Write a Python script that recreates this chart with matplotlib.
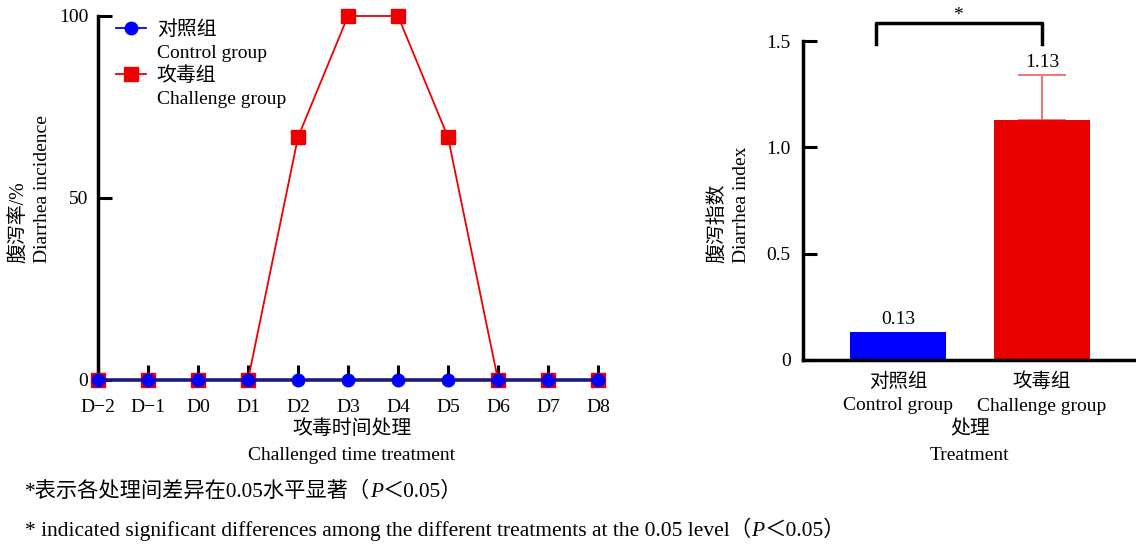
import matplotlib
matplotlib.use('Agg')
import matplotlib.pyplot as plt
from matplotlib.lines import Line2D

plt.rcParams['font.family'] = ['Liberation Serif', 'Noto Sans CJK SC']
plt.rcParams['axes.unicode_minus'] = True

# 腹泻率 (%) by day
days = ['D−2', 'D−1', 'D0', 'D1', 'D2', 'D3', 'D4', 'D5', 'D6', 'D7', 'D8']
control_rate = [0, 0, 0, 0, 0, 0, 0, 0, 0, 0, 0]
challenge_rate = [0, 0, 0, 0, 66.7, 100, 100, 66.7, 0, 0, 0]

# 腹泻指数
groups_cn = ['对照组', '攻毒组']
groups_en = ['Control group', 'Challenge group']
diarrhea_index = [0.13, 1.13]
index_err = [0, 0.21]

W, H = 1136, 545
fig = plt.figure(figsize=(W / 100, H / 100), dpi=100)

BLUE = '#0000ff'
RED = '#e80000'
FS = 14      # latin text
FS_CN = 14.3  # chinese text


def fx(px):
    return px / W


def fy(py):
    return 1 - py / H


# ---------- left: incidence line chart ----------
ax1 = fig.add_axes([fx(98), fy(380), 500 / W, 364 / H])
xs = list(range(len(days)))
ax1.plot(xs, challenge_rate, color='#ee0000', lw=1.3, marker='s', ms=9.5,
         mfc='#ee0000', mec='#ee0000', zorder=3, clip_on=False)
ax1.plot(xs, control_rate, color='#1c1c78', lw=2.6, marker='o', ms=9,
         mfc=BLUE, mec=BLUE, zorder=4, clip_on=False)
ax1.set_xlim(0, len(days) - 1)
ax1.set_ylim(0, 100)
for s in ['top', 'right', 'bottom']:
    ax1.spines[s].set_visible(False)
ax1.spines['left'].set_linewidth(2.5)
ax1.set_xticks(xs)
ax1.set_xticklabels(days, fontsize=FS)
ax1.set_yticks([0, 50, 100])
ax1.set_yticklabels(['0', '50', '100'], fontsize=FS)
ax1.tick_params(axis='x', direction='in', length=11, width=2.2, pad=14)
ax1.tick_params(axis='y', direction='in', length=10, width=2.2, pad=7)

# legend: marker on the Chinese line, English name underneath
h_ctrl = Line2D([], [], color=BLUE, lw=1.3, marker='o', ms=9, mfc=BLUE, mec=BLUE)
h_chal = Line2D([], [], color='#ee0000', lw=1.3, marker='s', ms=9.5,
                mfc='#ee0000', mec='#ee0000')
leg = ax1.legend([h_ctrl, h_chal], groups_cn, loc='upper left',
                 bbox_to_anchor=(0.02, 1.008), frameon=False, fontsize=FS_CN,
                 handlelength=1.5, handletextpad=0.55, labelspacing=1.35,
                 borderaxespad=0)
for t, en in zip(leg.get_texts(), groups_en):
    ax1.annotate(en, xy=(0, 0), xycoords=t, xytext=(0, -3.5),
                 textcoords='offset points', va='top', ha='left', fontsize=FS,
                 zorder=10, annotation_clip=False)

fig.text(fx(352), fy(430), '攻毒时间处理', ha='center', va='center', fontsize=FS_CN)
fig.text(fx(352), fy(455), 'Challenged time treatment', ha='center', va='center', fontsize=FS)
fig.text(fx(20), fy(263), '腹泻率/%', rotation=90, ha='center', va='bottom', fontsize=FS_CN)
fig.text(fx(43), fy(263), 'Diarrhea incidence', rotation=90, ha='center', va='bottom', fontsize=FS)

# ---------- right: diarrhea index bars ----------
ax2 = fig.add_axes([fx(803), fy(360), 333 / W, 319 / H])
pos = [0, 1]
ax2.bar(pos, diarrhea_index, width=0.667, color=[BLUE, RED], zorder=2)
ax2.errorbar([pos[1]], [diarrhea_index[1]], yerr=[[0], [index_err[1]]],
             fmt='none', ecolor='#f06a6a', elinewidth=1.3, capsize=17,
             capthick=1.3, zorder=1)
ax2.set_xlim(-0.66, 1.653)
ax2.set_ylim(0, 1.5)
for s in ['top', 'right']:
    ax2.spines[s].set_visible(False)
for s in ['left', 'bottom']:
    ax2.spines[s].set_linewidth(2.5)
ax2.set_yticks([0, 0.5, 1.0, 1.5])
ax2.set_yticklabels(['0', '0.5', '1.0', '1.5'], fontsize=FS)
ax2.tick_params(axis='y', direction='in', length=10, width=2.2, pad=9)
ax2.set_xticks(pos)
ax2.set_xticklabels([c + '\n' + e for c, e in zip(groups_cn, groups_en)],
                    fontsize=FS, linespacing=1.5)
ax2.tick_params(axis='x', length=0, pad=9)

for p, v, e in zip(pos, diarrhea_index, index_err):
    ax2.annotate(f'{v:.2f}', xy=(p, v + e), xytext=(0, 3),
                 textcoords='offset points', ha='center', va='bottom', fontsize=FS)

# significance bracket
ax2.plot([-0.153, -0.153, 1.0, 1.0], [1.486, 1.584, 1.584, 1.486],
         color='black', lw=2.5, clip_on=False)
ax2.text(0.417, 1.58, '*', ha='center', va='bottom', fontsize=FS)

fig.text(fx(970), fy(430), '处理', ha='center', va='center', fontsize=FS_CN)
fig.text(fx(970), fy(455), 'Treatment', ha='center', va='center', fontsize=FS)
fig.text(fx(718), fy(263), '腹泻指数', rotation=90, ha='center', va='bottom', fontsize=FS_CN)
fig.text(fx(742), fy(263), 'Diarrhea index', rotation=90, ha='center', va='bottom', fontsize=FS)


# ---------- footnotes with italic P ----------
def note_line(x, y, parts, size):
    prev = fig.text(x, y, parts[0][0], style=parts[0][1], fontsize=size, va='center')
    for s, st in parts[1:]:
        prev = ax1.annotate(s, xy=(1, 0), xycoords=prev, va='bottom', ha='left',
                            style=st, fontsize=size, annotation_clip=False)


note_line(fx(25), fy(492), [('*表示各处理间差异在0.05水平显著（', 'normal'),
                            ('P', 'italic'), ('＜0.05）', 'normal')], 15.3)
note_line(fx(25), fy(529), [('* indicated significant differences among the different '
                             'treatments at the 0.05 level（', 'normal'),
                            ('P', 'italic'), ('＜0.05）', 'normal')], 15.5)

fig.savefig('out.png', dpi=100)
